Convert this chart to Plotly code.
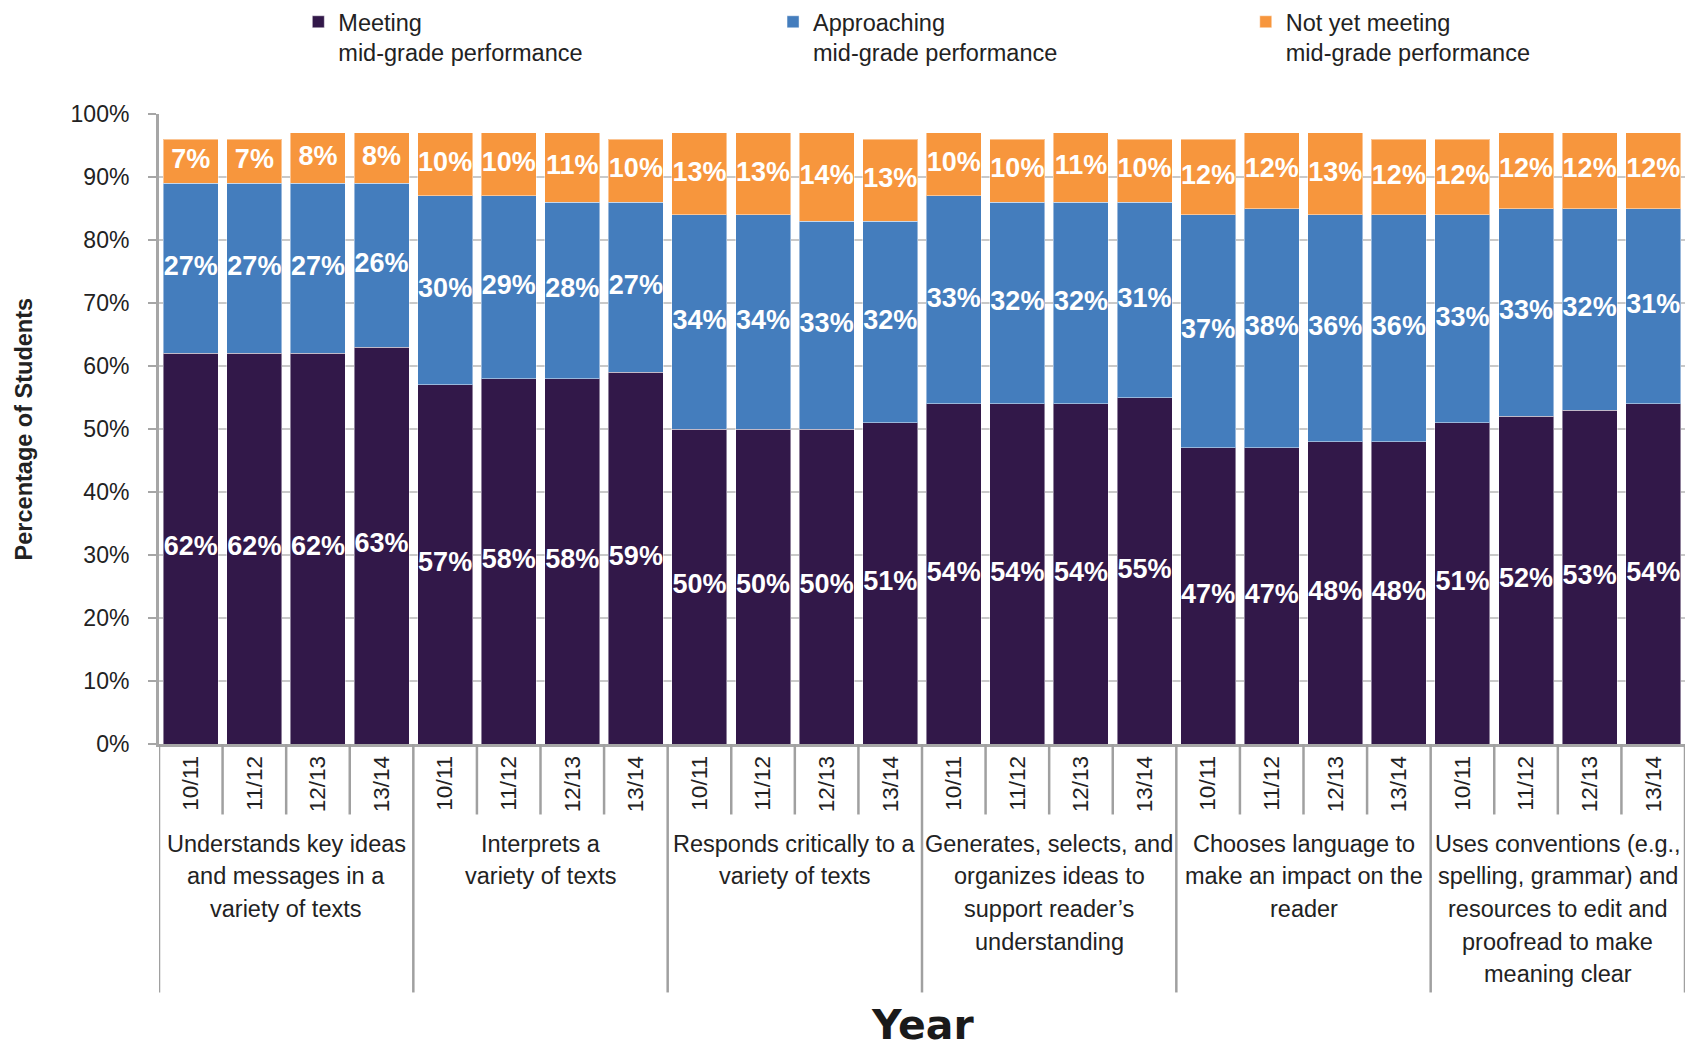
import plotly.graph_objects as go

# School years shown under every skill group
years = ["10/11", "11/12", "12/13", "13/14"]

# Skill groups, one caption line per list item
skills = [
    ["Understands key ideas", "and messages in a", "variety of texts"],
    ["Interprets a", "variety of texts"],
    ["Responds critically to a", "variety of texts"],
    ["Generates, selects, and", "organizes ideas to", "support reader’s", "understanding"],
    ["Chooses language to", "make an impact on the", "reader"],
    ["Uses conventions (e.g.,", "spelling, grammar) and", "resources to edit and",
     "proofread to make", "meaning clear"],
]

# Percentage of students per skill group, one value per school year
meeting = [
    [62, 62, 62, 63],
    [57, 58, 58, 59],
    [50, 50, 50, 51],
    [54, 54, 54, 55],
    [47, 47, 48, 48],
    [51, 52, 53, 54],
]
approaching = [
    [27, 27, 27, 26],
    [30, 29, 28, 27],
    [34, 34, 33, 32],
    [33, 32, 32, 31],
    [37, 38, 36, 36],
    [33, 33, 32, 31],
]
not_yet = [
    [7, 7, 8, 8],
    [10, 10, 11, 10],
    [13, 13, 14, 13],
    [10, 10, 11, 10],
    [12, 12, 13, 12],
    [12, 12, 12, 12],
]

series_names = [
    "Meeting<br>mid-grade performance",
    "Approaching<br>mid-grade performance",
    "Not yet meeting<br>mid-grade performance",
]
series_colors = ["#321849", "#447DBD", "#F7963D"]

SANS = "Liberation Sans, Arial, sans-serif"
TEXT = "#222222"

n_years = len(years)
n_groups = len(skills)
xpos = [g * n_years + j for g in range(n_groups) for j in range(n_years)]
tick_text = [years[j] for g in range(n_groups) for j in range(n_years)]


def flat(rows):
    return [v for row in rows for v in row]


series_values = [flat(meeting), flat(approaching), flat(not_yet)]

# Plot area geometry (pixels)
W, H = 1692, 1050
ML, MR, MT, MB = 158.6, 6.5, 114.4, 305.5
plot_w = W - ML - MR
plot_h = H - MT - MB
axis_y = H - MB

legend_ids = ["legend", "legend2", "legend3"]
legend_left_px = [298, 773, 1246]

fig = go.Figure()

# Stacked bars, each series with its own legend box across the top
for name, vals, col, lg in zip(series_names, series_values, series_colors, legend_ids):
    fig.add_trace(go.Bar(
        x=xpos, y=vals, name=name, legend=lg,
        marker=dict(color=col, line=dict(color="rgba(255,255,255,0.45)", width=1)),
        hoverinfo="skip",
    ))

# Value labels centred in each segment
base = [0] * len(xpos)
for vals in series_values:
    centers = [b + v / 2 for b, v in zip(base, vals)]
    fig.add_trace(go.Scatter(
        x=xpos, y=centers, mode="text",
        text=[f"{v}%" for v in vals],
        textposition="middle center",
        textfont=dict(family=SANS, size=27, color="white", weight="bold"),
        showlegend=False, hoverinfo="skip",
    ))
    base = [b + v for b, v in zip(base, vals)]

shapes = []
# Tick separators below the axis: short between years, long between skill groups
for k in range(len(xpos) + 1):
    long_line = (k % n_years == 0)
    depth = (993 - axis_y) if long_line else (815 - axis_y)
    shapes.append(dict(
        type="line", xref="x", yref="paper",
        x0=k - 0.5, x1=k - 0.5, y0=0, y1=-depth / plot_h,
        line=dict(color="#A0A0A0", width=2.5), layer="above",
    ))

annotations = []
# Skill group captions, line by line
LINE_STEP = 32.7
for g, lines in enumerate(skills):
    for i, line in enumerate(lines):
        annotations.append(dict(
            x=g * n_years + (n_years - 1) / 2, y=0, xref="x", yref="paper",
            text=line, showarrow=False, xanchor="center", yanchor="middle",
            yshift=-(844 + i * LINE_STEP - axis_y),
            font=dict(family=SANS, size=23.5, color=TEXT),
        ))

# Axis titles
annotations.append(dict(
    x=0, y=0.5, xref="paper", yref="paper", text="<b>Percentage of Students</b>",
    showarrow=False, textangle=-90, xanchor="center", yanchor="middle",
    xshift=24 - ML, font=dict(family=SANS, size=23.5, color=TEXT),
))
annotations.append(dict(
    x=0.5, y=0, xref="paper", yref="paper", text="<b>Year</b>",
    showarrow=False, xanchor="center", yanchor="middle",
    yshift=-(1025 - axis_y),
    font=dict(family="DejaVu Sans, Verdana, sans-serif", size=41, color="#1a1a1a"),
))


def legend_box(left_px):
    return dict(
        orientation="h", x=(left_px - ML) / plot_w, xanchor="left",
        y=1, yanchor="top", yref="container",
        valign="top",
        font=dict(family=SANS, size=23.5, color=TEXT),
        bgcolor="rgba(0,0,0,0)", itemclick=False, itemdoubleclick=False,
    )


fig.update_layout(
    width=W, height=H,
    barmode="stack", bargap=0.135,
    margin=dict(l=ML, r=MR, t=MT, b=MB, pad=0),
    paper_bgcolor="white", plot_bgcolor="white",
    font=dict(family=SANS, size=23.5, color=TEXT),
    showlegend=True,
    legend=legend_box(legend_left_px[0]),
    legend2=legend_box(legend_left_px[1]),
    legend3=legend_box(legend_left_px[2]),
    xaxis=dict(
        range=[-0.5, len(xpos) - 0.5],
        tickmode="array", tickvals=xpos, ticktext=tick_text,
        tickangle=-90, ticks="", showgrid=False, zeroline=False,
        showline=True, linecolor="#A6A6A6", linewidth=3,
        tickfont=dict(family=SANS, size=22.5, color=TEXT),
        fixedrange=True,
    ),
    yaxis=dict(
        range=[0, 100], tickmode="linear", tick0=0, dtick=10,
        ticksuffix="%", showgrid=True, gridcolor="#C9C9C9", gridwidth=2,
        zeroline=False, showline=True, linecolor="#A6A6A6", linewidth=3,
        ticks="outside", ticklen=8, tickwidth=2, tickcolor="#A6A6A6",
        ticklabelstandoff=14,
        tickfont=dict(family=SANS, size=23, color=TEXT),
        fixedrange=True,
    ),
    shapes=shapes,
    annotations=annotations,
)

fig.write_html("out.html")
